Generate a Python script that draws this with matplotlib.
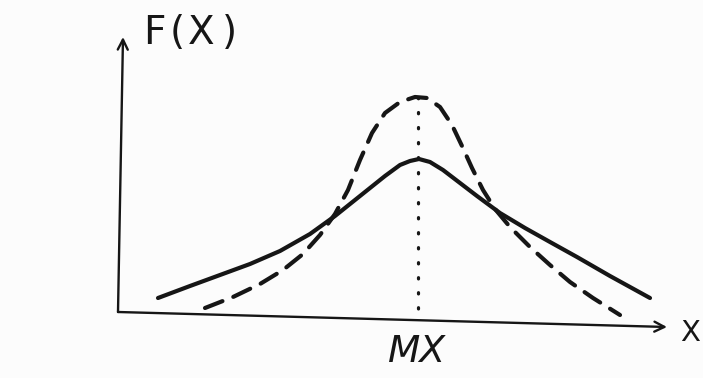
import matplotlib.pyplot as plt

# points (pixel coords, y grows downward)
solid_x = [158, 190, 220, 250, 280, 310, 335, 360, 385, 400, 410, 419, 430, 443, 460, 477,
           500, 525, 550, 577, 610, 650]
solid_y = [298, 286, 275, 264, 251, 234, 216, 196, 176, 165, 161, 159, 162, 170, 183, 196,
           213, 228, 242, 257, 276, 298]

dashed_x = [205, 233, 260, 283, 303, 320, 335, 348, 360, 372, 385, 400, 415, 427, 440, 452,
            462, 472, 483, 495, 510, 530, 550, 570, 593, 620]
dashed_y = [308, 297, 284, 270, 254, 235, 214, 190, 160, 133, 113, 102, 97, 98, 107, 125,
            146, 168, 190, 209, 227, 247, 265, 282, 298, 315]

mx = 418            # position of the mean
mx_axis = 321       # where the dotted line meets the x axis
x_axis = [(118, 312), (667, 327)]
y_axis = [(118, 312), (123, 37)]

ink = '#161616'

fig = plt.figure(figsize=(7.03, 3.78), dpi=100)
fig.patch.set_facecolor('#fcfcfc')
ax = fig.add_axes([0, 0, 1, 1])
ax.set_xlim(0, 703)
ax.set_ylim(378, 0)
ax.axis('off')

arrow = dict(arrowstyle='->', color=ink, lw=1.7, mutation_scale=18, shrinkA=0, shrinkB=0)
ax.annotate('', xy=x_axis[1], xytext=x_axis[0], arrowprops=arrow)
ax.annotate('', xy=y_axis[1], xytext=y_axis[0], arrowprops=arrow)

ax.plot(solid_x, solid_y, color=ink, lw=3, solid_capstyle='round', solid_joinstyle='round')
ax.plot(dashed_x, dashed_y, color=ink, lw=3, dashes=(4.5, 2.8), dash_capstyle='round',
        dash_joinstyle='round')
ax.plot([mx, mx], [min(dashed_y), mx_axis], color=ink, lw=2.3,
        dashes=(0.4, 4.3), dash_capstyle='round')

# hand-lettered labels, spread out a little like the sketch
for ch, xpos in zip('F(X)', [143, 170, 188, 222]):
    ax.text(xpos, 44, ch, fontsize=28, color=ink, ha='left', va='baseline')
ax.text(417, 362, 'MX', fontsize=27, color=ink, ha='center', va='baseline', style='italic')
ax.text(690, 341, 'X', fontsize=21, color=ink, ha='center', va='baseline')

fig.savefig('out.png', dpi=100, facecolor=fig.get_facecolor())
